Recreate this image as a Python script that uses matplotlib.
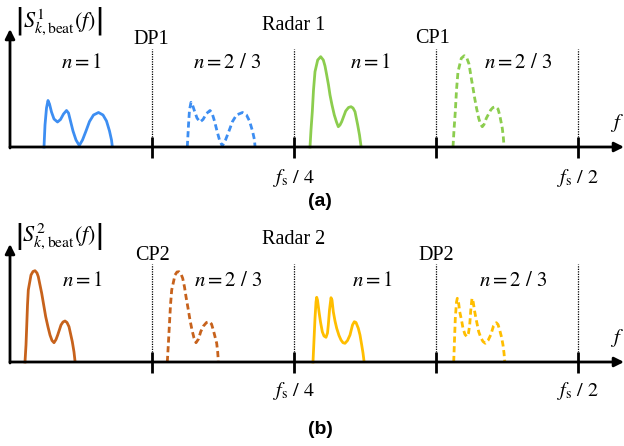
import matplotlib
matplotlib.use('Agg')
import matplotlib.pyplot as plt

plt.rcParams['font.family'] = 'serif'
plt.rcParams['font.serif'] = ['Liberation Serif']
plt.rcParams['mathtext.fontset'] = 'stix'

# frequency axis in bins, fs = 1136 bins (fs/2 = 568)
FS = 1136
tick_pos = [FS / 8, FS / 4, 3 * FS / 8, FS / 2]

# radar 1, blue (n=1 / n=2/3)
blue1_x = [34, 35, 36.5, 38, 39.5, 41.5, 44, 47.5, 50.5, 53.5, 56.5, 58.5, 60.5, 63, 66, 69.3, 72.5, 76, 79.5, 83.5, 88.5, 93, 96.5, 99.5, 101.5, 102.3]
blue1_y = [0, 22, 39, 46.5, 43, 35, 28, 25, 27.5, 33, 36.5, 34, 26, 16, 7, 1.5, 7, 16, 25.5, 32, 34.5, 32, 26, 16, 7, 0.5]
blue2_x = [177.3, 178.5, 179.5, 181, 182.5, 184.5, 187, 190, 193, 196.5, 200, 202, 204.5, 207, 209.5, 212.3, 215.5, 219, 222.5, 226.5, 232.5, 236.5, 239.5, 242.5, 244.5, 245]
blue2_y = [0, 22, 37, 44.7, 42, 36, 29, 25, 27.5, 33.5, 36.5, 34, 26, 16, 7, 1, 7, 16, 25.5, 32, 34.5, 32, 26, 16, 7, 0.5]

# radar 1, green
green1_x = [300, 301, 302.3, 303.5, 305, 307.7, 310.7, 313.3, 315, 316.7, 318.5, 320, 322, 324.3, 326.5, 328.3, 330, 331.7, 335.7, 338.5, 341, 343, 345, 347.7, 349.5, 351]
green1_y = [0, 17, 35.3, 57, 75.3, 87, 90.3, 87, 81, 72, 62, 52, 42, 32, 25, 20.3, 22, 25.3, 36, 39.5, 40.3, 39, 35.3, 22, 12, 1]
green2_x = [443, 444, 445.3, 446.5, 448, 451.3, 454.3, 457, 459, 461.3, 463, 464.7, 466.5, 468.7, 470.5, 472.3, 474, 476.3, 480.7, 483, 485.7, 488, 489.7, 492.3, 493.3, 494]
green2_y = [0, 17, 35.3, 57, 75.3, 88.7, 91.3, 88.5, 83, 68.7, 59, 48.7, 39, 28.7, 23, 20.3, 22.5, 28.7, 37, 39.5, 40.3, 38, 32, 18.7, 10, 1]

# radar 2, orange
orange1_x = [15, 16, 16.7, 17.5, 18.3, 21, 23, 25, 27, 28.3, 30, 31.7, 33.7, 35.7, 38, 40, 42, 44, 46, 47.7, 51, 53, 55, 57, 59, 62.3, 64, 65]
orange1_y = [0, 17, 35.3, 57, 72, 87, 90.5, 91.3, 89, 85.3, 77, 68.7, 57, 45.3, 35, 27, 21.5, 19.3, 22.5, 27, 37, 40, 41, 39.5, 35.3, 20.3, 10, 1]
orange2_x = [157.3, 158.3, 159.3, 160.5, 161.7, 165, 167, 169, 171, 172.7, 174.5, 176, 178, 180, 182, 184, 186, 188.5, 190.7, 193.5, 196.5, 199.3, 201.5, 203.3, 206.7, 207.7, 208.3]
orange2_y = [0, 17, 35.3, 57, 72, 87, 90, 90.3, 88, 83.7, 75, 65.3, 54, 42, 32, 24, 19.3, 23, 30.3, 36, 39.5, 40.3, 38, 32, 18.7, 10, 1]

# radar 2, yellow
yellow1_x = [303, 304, 305, 306, 306.7, 307.5, 309, 310.5, 312.3, 314, 316, 317.5, 318.3, 319.5, 321, 322, 323.3, 325, 326.7, 329, 331, 333, 335, 337.5, 340, 342.5, 344.3, 346, 348.3, 350, 351.7, 353, 354]
yellow1_y = [0, 22, 43.7, 60, 64.7, 62, 50.3, 40, 30.3, 26, 24.7, 29, 37, 52, 64.3, 62, 50.3, 41, 33.7, 26.5, 22, 19.3, 18.7, 21.5, 27, 37, 40.3, 39.5, 33.7, 27, 17, 9, 1]
yellow2_x = [443.7, 444.5, 445.3, 446.5, 447.3, 448.5, 449.7, 451.5, 453, 455, 457, 458.5, 459.7, 460.8, 462, 463.2, 464.7, 466.5, 468.7, 471, 473, 475.3, 478, 480.7, 483.5, 486.3, 488, 489.7, 491.5, 493, 494, 494.7]
yellow2_y = [0, 22, 43.7, 60, 63.7, 60, 50.3, 42, 33.7, 27.5, 25.3, 29, 37, 52, 63.7, 60, 50.3, 41, 30.3, 24, 20.5, 18.7, 21.5, 27, 36, 39.3, 37.5, 32, 25, 17, 9, 1]

region_top = ['DP1', 'CP1']
region_bot = ['CP2', 'DP2']
n_labels = [r'$n=1$', r'$n=2\ /\ 3$', r'$n=1$', r'$n=2\ /\ 3$']

BLUE = '#3d8ef2'
GREEN = '#8ccd4e'
ORANGE = '#c7621c'
YELLOW = '#ffbe00'
DASH = (0, (2.2, 1.3))


def draw_axes(ax, ylabel, title, sub, sub_y, fs_y):
    ax.set_xlim(-10, 614)
    ax.axis('off')
    # frequency axis and amplitude axis
    ax.annotate('', xy=(614, 0), xytext=(0, 0),
                arrowprops=dict(arrowstyle='-|>', lw=2, color='k',
                                mutation_scale=14, shrinkA=0, shrinkB=0))
    ax.annotate('', xy=(0, 118), xytext=(0, -1),
                arrowprops=dict(arrowstyle='-|>', lw=2, color='k',
                                mutation_scale=14, shrinkA=0, shrinkB=0))
    ax.vlines(tick_pos, -11, 10, colors='k', lw=2)
    ax.vlines(tick_pos, 10, 98, colors='k', lw=0.9, linestyles=(0, (1, 1)))
    ax.text(5, 126, ylabel, fontsize=16, ha='left', va='center')
    ax.text(283.5, 122, title, fontsize=14.5, ha='center', va='center')
    ax.text(607, 24, r'$f$', fontsize=15, ha='center', va='center')
    ax.text(FS / 4, fs_y, r'$f_{\mathrm{s}}\ /\ 4$', fontsize=14.5, ha='center', va='center')
    ax.text(FS / 2, fs_y, r'$f_{\mathrm{s}}\ /\ 2$', fontsize=14.5, ha='center', va='center')
    ax.text(310, sub_y, sub, fontsize=14, fontweight='bold', family='Liberation Sans',
            ha='center', va='center')


fig = plt.figure(figsize=(6.24, 4.46), dpi=100)

# (a) radar 1
ax1 = fig.add_axes([0, 0.5, 1, 0.5])
ax1.set_ylim(-76, 147)
draw_axes(ax1, r'$\left|S^{1}_{k,\mathrm{beat}}(f)\right|$', 'Radar 1', '(a)', -54, -31)
ax1.plot(blue1_x, blue1_y, color=BLUE, lw=2)
ax1.plot(blue2_x, blue2_y, color=BLUE, lw=2, ls=DASH)
ax1.plot(green1_x, green1_y, color=GREEN, lw=2)
ax1.plot(green2_x, green2_y, color=GREEN, lw=2, ls=DASH)
ax1.text(141, 107, region_top[0], fontsize=14.5, ha='center', va='center')
ax1.text(422.5, 108.5, region_top[1], fontsize=14.5, ha='center', va='center')
for xp, lab in zip([71, 217.5, 360, 508], n_labels):
    ax1.text(xp, 83, lab, fontsize=15, ha='center', va='center')

# (b) radar 2
ax2 = fig.add_axes([0, 0, 1, 0.5])
ax2.set_ylim(-84, 139)
draw_axes(ax2, r'$\left|S^{2}_{k,\mathrm{beat}}(f)\right|$', 'Radar 2', '(b)', -68, -29)
ax2.plot(orange1_x, orange1_y, color=ORANGE, lw=2)
ax2.plot(orange2_x, orange2_y, color=ORANGE, lw=2, ls=DASH)
ax2.plot(yellow1_x, yellow1_y, color=YELLOW, lw=2)
ax2.plot(yellow2_x, yellow2_y, color=YELLOW, lw=2, ls=DASH)
ax2.text(142, 107, region_bot[0], fontsize=14.5, ha='center', va='center')
ax2.text(426.5, 107, region_bot[1], fontsize=14.5, ha='center', va='center')
for xp, lab in zip([72, 218, 362, 503], n_labels):
    ax2.text(xp, 81, lab, fontsize=15, ha='center', va='center')

fig.savefig('out.png', dpi=100)
